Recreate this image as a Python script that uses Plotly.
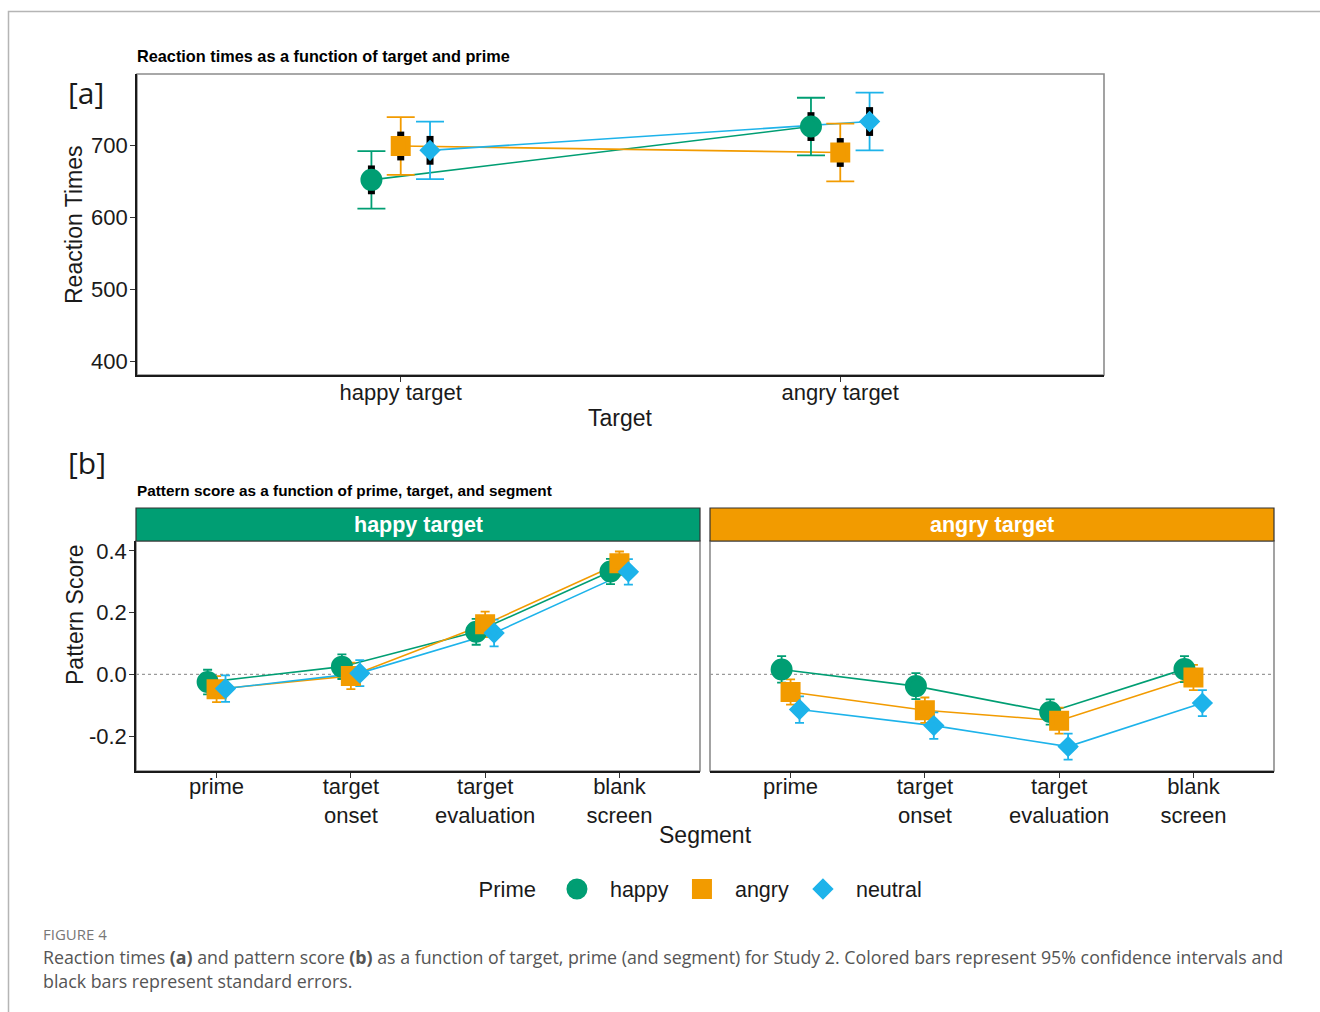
import plotly.graph_objects as go

# ---------------- data ----------------
primes = ["happy", "angry", "neutral"]
prime_colors = ["#009E73", "#F29B00", "#1DB3EA"]
prime_symbols = ["circle", "square", "diamond"]
prime_sizes = [17, 15, 11]
MARKER_EDGE = 5
legend_widths = [54, 50, 66]

targets = ["happy target", "angry target"]
rt_happy = [652, 726]
rt_angry = [699, 690]
rt_neutral = [693, 733]
rt_ci_happy = [40, 40]
rt_ci_angry = [40, 40]
rt_ci_neutral = [40, 40]
rt_se_happy = [20, 20]
rt_se_angry = [20, 20]
rt_se_neutral = [20, 20]

segments = ["prime", "target<br>onset", "target<br>evaluation", "blank<br>screen"]
ps_ht_happy = [-0.025, 0.025, 0.138, 0.333]
ps_ht_angry = [-0.048, -0.005, 0.162, 0.360]
ps_ht_neutral = [-0.046, 0.004, 0.134, 0.332]
ps_at_happy = [0.016, -0.038, -0.122, 0.017]
ps_at_angry = [-0.057, -0.116, -0.150, -0.010]
ps_at_neutral = [-0.114, -0.166, -0.234, -0.093]
ps_ci_ht_happy = [0.040, 0.040, 0.042, 0.041]
ps_ci_ht_angry = [0.042, 0.043, 0.041, 0.038]
ps_ci_ht_neutral = [0.043, 0.042, 0.043, 0.041]
ps_ci_at_happy = [0.043, 0.042, 0.041, 0.042]
ps_ci_at_angry = [0.041, 0.041, 0.042, 0.041]
ps_ci_at_neutral = [0.043, 0.043, 0.042, 0.042]

rt_means = [rt_happy, rt_angry, rt_neutral]
rt_cis = [rt_ci_happy, rt_ci_angry, rt_ci_neutral]
rt_ses = [rt_se_happy, rt_se_angry, rt_se_neutral]
ps_ht = [ps_ht_happy, ps_ht_angry, ps_ht_neutral]
ps_at = [ps_at_happy, ps_at_angry, ps_at_neutral]
ps_ci_ht = [ps_ci_ht_happy, ps_ci_ht_angry, ps_ci_ht_neutral]
ps_ci_at = [ps_ci_at_happy, ps_ci_at_angry, ps_ci_at_neutral]

W, H = 1320, 1012
FONT = "Liberation Sans, Arial, sans-serif"
DODGE = 0.2 / 3
TXT = "#1a1a1a"


def px(x):
    return x / W


def py(y):
    return 1 - y / H


def dodged(n, i):
    return [k + 1 + (i - 1) * DODGE for k in range(n)]


def marker(i):
    return dict(size=prime_sizes[i], color=prime_colors[i],
                symbol=prime_symbols[i],
                line=dict(width=MARKER_EDGE, color=prime_colors[i]))


fig = go.Figure()

# ---------------- panel a ----------------
for i, p in enumerate(primes):
    xs = dodged(len(targets), i)
    fig.add_trace(go.Scatter(
        x=xs, y=rt_means[i], mode="lines", xaxis="x", yaxis="y",
        line=dict(color=prime_colors[i], width=1.6), showlegend=False,
        hoverinfo="skip"))
for i, p in enumerate(primes):
    xs = dodged(len(targets), i)
    fig.add_trace(go.Scatter(
        x=xs, y=rt_means[i], mode="markers", xaxis="x", yaxis="y",
        marker=dict(size=1, opacity=0), showlegend=False,
        error_y=dict(type="data", array=rt_cis[i], color=prime_colors[i],
                     thickness=1.8, width=14)))
for i, p in enumerate(primes):
    xs = dodged(len(targets), i)
    fig.add_trace(go.Scatter(
        x=xs, y=rt_means[i], mode="markers", xaxis="x", yaxis="y",
        marker=dict(size=1, opacity=0), showlegend=False,
        error_y=dict(type="data", array=rt_ses[i], color="black",
                     thickness=7, width=0)))
for i, p in enumerate(primes):
    xs = dodged(len(targets), i)
    fig.add_trace(go.Scatter(
        x=xs, y=rt_means[i], mode="markers", xaxis="x", yaxis="y",
        name=p, legendgroup=p, legendwidth=legend_widths[i],
        marker=marker(i)))

# ---------------- panel b ----------------
for facet, (means, cis, xa, ya) in enumerate(
        [(ps_ht, ps_ci_ht, "x2", "y2"), (ps_at, ps_ci_at, "x3", "y3")]):
    for i, p in enumerate(primes):
        xs = dodged(len(segments), i)
        fig.add_trace(go.Scatter(
            x=xs, y=means[i], mode="lines", xaxis=xa, yaxis=ya,
            line=dict(color=prime_colors[i], width=1.6), showlegend=False,
            hoverinfo="skip"))
    for i, p in enumerate(primes):
        xs = dodged(len(segments), i)
        fig.add_trace(go.Scatter(
            x=xs, y=means[i], mode="markers", xaxis=xa, yaxis=ya,
            marker=dict(size=1, opacity=0), showlegend=False,
            error_y=dict(type="data", array=cis[i], color=prime_colors[i],
                         thickness=1.8, width=4.5)))
    for i, p in enumerate(primes):
        xs = dodged(len(segments), i)
        fig.add_trace(go.Scatter(
            x=xs, y=means[i], mode="markers", xaxis=xa, yaxis=ya,
            showlegend=False, legendgroup=p, marker=marker(i)))

axis_common = dict(showgrid=False, zeroline=False, showline=True,
                   linecolor="#1a1a1a", linewidth=1.6, ticks="outside",
                   ticklen=5, tickwidth=1.2, tickcolor="#333",
                   automargin=False,
                   tickfont=dict(family=FONT, size=22, color=TXT))

fig.update_layout(
    width=W, height=H, margin=dict(l=0, r=0, t=0, b=0, autoexpand=False),
    paper_bgcolor="white", plot_bgcolor="white",
    font=dict(family=FONT, color=TXT),
    xaxis=dict(domain=[px(137), px(1104)], anchor="y", range=[0.4, 2.6],
               tickvals=[1, 2], ticktext=targets, ticklabelstandoff=-8,
               **axis_common),
    yaxis=dict(domain=[py(375), py(74)], anchor="x", range=[381, 799],
               tickvals=[400, 500, 600, 700], ticklabelstandoff=-2,
               **axis_common),
    xaxis2=dict(domain=[px(136), px(700)], anchor="y2", range=[0.4, 4.6],
                tickvals=[1, 2, 3, 4], ticktext=segments,
                ticklabelstandoff=-10, **axis_common),
    yaxis2=dict(domain=[py(771), py(541)], anchor="x2",
                range=[-0.313, 0.432], tickvals=[-0.2, 0, 0.2, 0.4],
                ticktext=["-0.2", "0.0", "0.2", "0.4"],
                ticklabelstandoff=-2, **axis_common),
    xaxis3=dict(domain=[px(710), px(1274)], anchor="y3", range=[0.4, 4.6],
                tickvals=[1, 2, 3, 4], ticktext=segments,
                ticklabelstandoff=-10, **axis_common),
    yaxis3=dict(domain=[py(771), py(541)], anchor="x3",
                range=[-0.313, 0.432], showgrid=False, zeroline=False,
                showline=False, showticklabels=False, ticks="",
                automargin=False),
    legend=dict(orientation="h", x=px(702), xanchor="center",
                y=py(889), yanchor="middle",
                title=dict(text="Prime", font=dict(size=22, family=FONT, color=TXT)),
                font=dict(size=21.5, family=FONT, color=TXT),
                itemwidth=56, itemsizing="trace"),
)

shapes = []
# outer figure frame
shapes.append(dict(type="path", xref="paper", yref="paper",
                   path=f"M {px(8.5)},0 L {px(8.5)},{py(11.5)} L 1,{py(11.5)}",
                   line=dict(color="#b5b5b5", width=1.5)))
# panel borders (gray top/right)
for xr, yr in [("x domain", "y domain"), ("x2 domain", "y2 domain"),
               ("x3 domain", "y3 domain")]:
    shapes.append(dict(type="rect", xref=xr, yref=yr, x0=0, x1=1, y0=0, y1=1,
                       line=dict(color="#8c8c8c", width=1.6), layer="below"))
# dotted zero lines
for xr, yr in [("x2 domain", "y2"), ("x3 domain", "y3")]:
    shapes.append(dict(type="line", xref=xr, yref=yr, x0=0, x1=1, y0=0, y1=0,
                       line=dict(color="#9a9a9a", width=1.3, dash="dot"),
                       layer="below"))
# facet strips
for (x0, x1, col) in [(136, 700, prime_colors[0]), (710, 1274, prime_colors[1])]:
    shapes.append(dict(type="rect", xref="paper", yref="paper",
                       x0=px(x0), x1=px(x1), y0=py(541), y1=py(508),
                       fillcolor=col, line=dict(color="#333", width=1.2)))
fig.update_layout(shapes=shapes)


def note(text, x, y, size, color=TXT, family=FONT, xanchor="center",
         angle=0):
    return dict(text=text, x=px(x), y=py(y), xref="paper", yref="paper",
                xanchor=xanchor, yanchor="middle", showarrow=False,
                textangle=angle,
                font=dict(size=size, family=family, color=color))


LIGHT = "DejaVu Sans ExtraLight, Open Sans, sans-serif"
CAP = "Open Sans, Lato, sans-serif"
ann = [
    note("<b>Reaction times as a function of target and prime</b>", 135, 56,
         16.3, color="black", xanchor="left"),
    note("<b>Pattern score as a function of prime, target, and segment</b>",
         135, 490, 15.3, color="black", xanchor="left"),
    note("[a]", 66, 92, 30, family=LIGHT, xanchor="left"),
    note("[b]", 66, 462, 30, family=LIGHT, xanchor="left"),
    note("Reaction Times", 74, 225, 23, angle=-90),
    note("Target", 620, 418, 23),
    note("Pattern Score", 75, 615, 23, angle=-90),
    note("Segment", 705, 835, 23),
    note("<b>happy target</b>", 418, 525, 21.5, color="white"),
    note("<b>angry target</b>", 992, 525, 21.5, color="white"),
    note("FIGURE 4", 41, 934, 15, color="#777", family=CAP, xanchor="left"),
    note("Reaction times <b>(a)</b> and pattern score <b>(b)</b> as a function of target, prime (and segment) for Study 2. Colored bars represent 95% confidence intervals and",
         41, 957, 17.8, color="#555", family=CAP, xanchor="left"),
    note("black bars represent standard errors.", 41, 981, 17.8, color="#555",
         family=CAP, xanchor="left"),
]
fig.update_layout(annotations=ann)

fig.write_html("out.html")
